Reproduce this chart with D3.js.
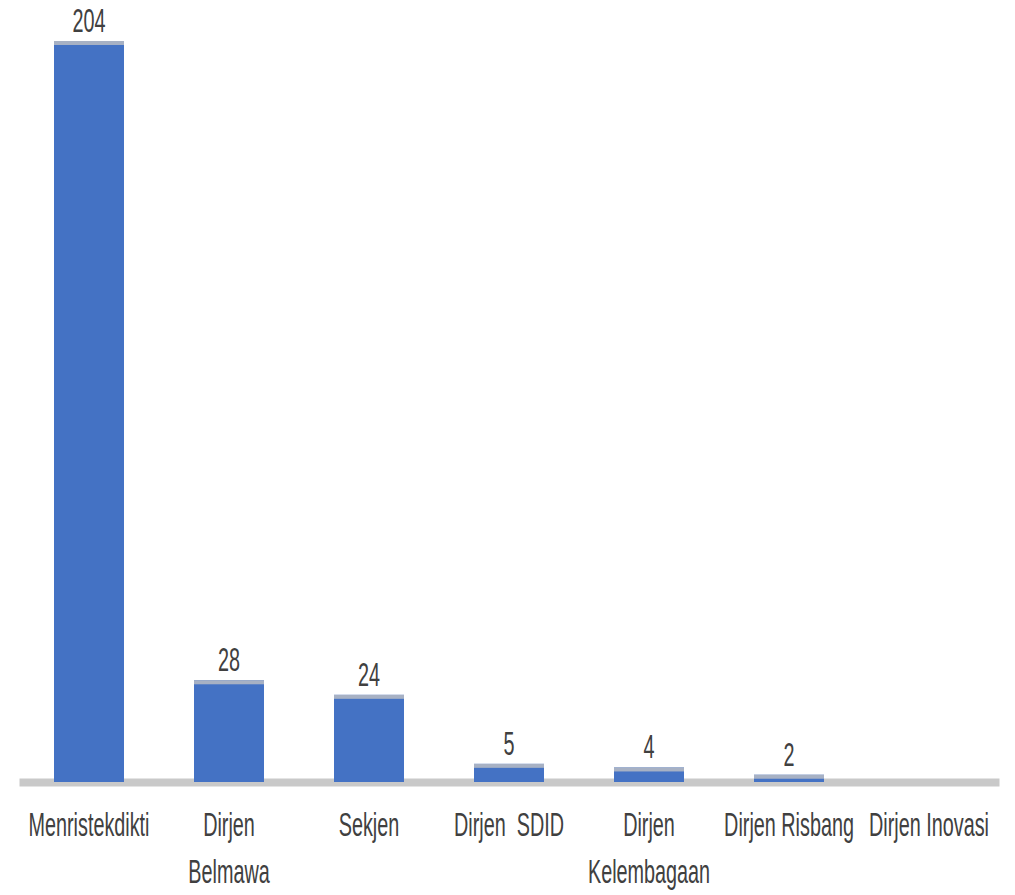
<!DOCTYPE html>
<html>
<head>
<meta charset="utf-8">
<script src="https://cdn.jsdelivr.net/npm/d3@7"></script>
<style>
	body { margin: 0; background: #ffffff; }
	.label { font-family: "Liberation Sans", Arial, sans-serif; fill: #404040; }
</style>
</head>
<body>
<div id="chart"></div>
<script>

var categories = ["Menristekdikti", "Dirjen\nBelmawa", "Sekjen", "Dirjen  SDID", "Dirjen\nKelembagaan", "Dirjen Risbang", "Dirjen Inovasi"];
var values = [204, 28, 24, 5, 4, 2, 0];

var width = 1015,
	height = 895;
var squeeze = 0.6;

var data = categories.map(function(c, i) { return {name: c, value: values[i]}; });

var svg = d3.select("#chart")
	.append("svg")
	.attr("width", width)
	.attr("height", height);

var x = d3.scaleBand().range([19, 999]).paddingInner(0.5).paddingOuter(0.25),
	y = d3.scaleLinear().range([782, 41]);

x.domain(categories);
y.domain([0, 204]);

// axis line (thick light gray), labels drawn separately for wrapping
var axis = svg.append("g")
	.attr("class", "x axis")
	.attr("transform", "translate(0," + y(0) + ")")
	.call(d3.axisBottom(x).tickSize(0).tickSizeOuter(0).tickFormat(""));

axis.select(".domain")
	.attr("stroke", "#c9c9c9")
	.attr("stroke-width", 8);

svg.selectAll(".bar")
	.data(data)
	.enter()
	.append("rect")
	.attr("class", "bar")
	.attr("x", function(d) { return x(d.name); })
	.attr("y", function(d) { return y(d.value); })
	.attr("width", x.bandwidth())
	.attr("height", function(d) { return y(0) - y(d.value); })
	.attr("fill", "#4472c4");

// gray cap on top of each bar
svg.selectAll(".cap")
	.data(data.filter(function(d) { return d.value > 0; }))
	.enter()
	.append("rect")
	.attr("class", "cap")
	.attr("x", function(d) { return x(d.name); })
	.attr("y", function(d) { return y(d.value); })
	.attr("width", x.bandwidth())
	.attr("height", 4)
	.attr("fill", "#a7b1c4");

svg.selectAll(".value")
	.data(data.filter(function(d) { return d.value > 0; }))
	.enter()
	.append("text")
	.attr("class", "label value")
	.attr("text-anchor", "middle")
	.attr("font-size", "33px")
	.attr("transform", function(d) {
		return "translate(" + (x(d.name) + x.bandwidth() / 2) + "," + (y(d.value) - 9) + ") scale(" + squeeze + ",1)";
	})
	.text(function(d) { return d.value; });

var cat = svg.selectAll(".cat")
	.data(data)
	.enter()
	.append("text")
	.attr("class", "label cat")
	.attr("text-anchor", "middle")
	.attr("font-size", "33px")
	.attr("transform", function(d) {
		return "translate(" + (x(d.name) + x.bandwidth() / 2) + ",836) scale(" + squeeze + ",1)";
	});

cat.selectAll("tspan")
	.data(function(d) { return d.name.split("\n"); })
	.enter()
	.append("tspan")
	.attr("x", 0)
	.attr("y", function(d, i) { return i * 47; })
	.attr("xml:space", "preserve")
	.style("white-space", "pre")
	.text(function(d) { return d; });

</script>
</body>
</html>
